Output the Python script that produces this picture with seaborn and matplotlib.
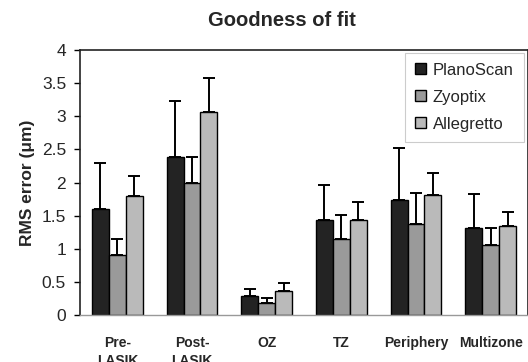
import matplotlib
matplotlib.use("Agg")
import matplotlib.pyplot as plt
import seaborn as sns
import pandas as pd
import numpy as np

categories = ["Pre-\nLASIK", "Post-\nLASIK", "OZ", "TZ", "Periphery", "Multizone"]
series = ["PlanoScan", "Zyoptix", "Allegretto"]
planoscan = [1.60, 2.38, 0.28, 1.43, 1.74, 1.32]
zyoptix = [0.90, 1.99, 0.18, 1.14, 1.38, 1.05]
allegretto = [1.80, 3.06, 0.355, 1.43, 1.81, 1.34]
planoscan_top = [2.30, 3.23, 0.40, 1.96, 2.52, 1.83]
zyoptix_top = [1.15, 2.39, 0.25, 1.51, 1.84, 1.32]
allegretto_top = [2.10, 3.58, 0.49, 1.71, 2.15, 1.56]
yticks = [0, 0.5, 1, 1.5, 2, 2.5, 3, 3.5, 4]
ytick_labels = ["0", "0.5", "1", "1.5", "2", "2.5", "3", "3.5", "4"]
colors = ["#232323", "#9a9a9a", "#bababa"]

values = [planoscan, zyoptix, allegretto]
tops = [planoscan_top, zyoptix_top, allegretto_top]
rows = []
for s, vals, tp in zip(series, values, tops):
    for c, v, t in zip(categories, vals, tp):
        rows.append({"cat": c, "series": s, "value": v, "top": t})
df = pd.DataFrame(rows)

sns.set_style("white")
plt.rcParams["font.family"] = ["Liberation Sans", "DejaVu Sans"]

fig = plt.figure(figsize=(5.28, 3.62), dpi=100)
ax = fig.add_axes([80 / 528, 1 - 315 / 362, 448 / 528, 265 / 362])

sns.barplot(data=df, x="cat", y="value", hue="series", order=categories,
            hue_order=series, palette=colors, width=0.68, errorbar=None,
            edgecolor="black", linewidth=1.0, saturation=1, ax=ax)

for cont, s in zip(ax.containers, series):
    sub = df[df["series"] == s].set_index("cat").loc[categories]
    xs = [p.get_x() + p.get_width() / 2 for p in cont.patches]
    lower = np.zeros(len(xs))
    upper = sub["top"].values - sub["value"].values
    ax.errorbar(xs, sub["value"].values, yerr=[lower, upper], fmt="none",
                ecolor="black", elinewidth=1.4, capsize=4, capthick=1.4, zorder=1)

ax.set_ylim(0, 4)
ax.set_xlim(-0.5, 5.5)
ax.set_yticks(yticks)
ax.set_yticklabels(ytick_labels, fontsize=12.5)
ax.set_xticks(range(len(categories)))
ax.set_xticklabels(categories, fontsize=10, fontweight="bold", linespacing=1.4)
ax.set_xticks(np.arange(-0.5, 6, 1), minor=True)
ax.tick_params(axis="x", which="major", length=0, pad=15)
ax.tick_params(axis="x", which="minor", length=4, color="#999999", width=0.8)
ax.tick_params(axis="y", which="major", length=4, color="black", width=1, pad=6, left=True)
ax.set_xlabel("")
ax.set_ylabel("RMS error (\u03bcm)", fontsize=12.5, fontweight="bold", labelpad=5)

for side in ["left", "top", "right"]:
    ax.spines[side].set_color("#222222")
    ax.spines[side].set_linewidth(1.2)
    ax.spines[side].set_visible(True)
ax.spines["bottom"].set_color("#999999")
ax.spines["bottom"].set_linewidth(1.0)

fig.text(282 / 528, 1 - 20 / 362, "Goodness of fit", ha="center", va="center",
         fontsize=14.5, fontweight="bold")

handles, labels = ax.get_legend_handles_labels()
leg = ax.legend(handles, labels, loc="upper right", bbox_to_anchor=(0.99, 0.99),
                fontsize=12, frameon=True, fancybox=False, framealpha=1,
                edgecolor="#cccccc", handlelength=0.65, handleheight=0.65,
                handletextpad=0.4, labelspacing=0.72, borderpad=0.6,
                borderaxespad=0, title=None)
leg.get_frame().set_linewidth(0.8)

fig.savefig("out.png", dpi=100)
